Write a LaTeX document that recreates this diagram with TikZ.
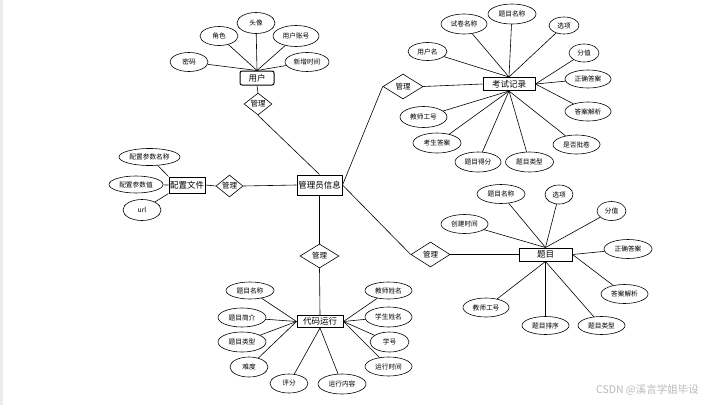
\documentclass[tikz,border=0pt]{standalone}
\usepackage{fontspec}
\setmainfont{Noto Sans CJK SC}
\usetikzlibrary{shapes.geometric}

\begin{document}
\begin{tikzpicture}[x=1pt,y=-1pt,line width=0.6pt]
    \tikzset{attr/.style={draw,ellipse,inner sep=0pt,minimum width=#1,minimum height=19pt,
        font=\fontsize{6.7}{7}\selectfont},
    attr/.default=47pt,
    entity/.style={draw,rectangle,line width=1pt,inner sep=0pt,minimum height=13pt,
        font=\fontsize{8.5}{9}\selectfont},
    relation/.style={draw,diamond,inner sep=0pt,minimum width=39pt,minimum height=25pt,
        font=\fontsize{7.5}{8}\selectfont}}
    \useasboundingbox (0,0) rectangle (723,405);
    \fill[gray!15] (0,0) rectangle (3,405);

    \node[entity,minimum width=45pt,minimum height=20pt] (admin) at (319.5,185) {管理员信息};

    \node[entity,rounded corners=2pt,minimum width=34pt,minimum height=14pt] (user) at (257,78) {用户};
    \node[relation,minimum width=28pt,minimum height=20pt] (mUser) at (258,104) {管理};
    \node[attr=38pt] (u1) at (189,62) {密码};
    \node[attr=38pt] (u2) at (219,36) {角色};
    \node[attr=38pt,minimum height=21pt] (u3) at (256,23) {头像};
    \node[attr=46pt,minimum height=21pt] (u4) at (296,36) {用户账号};
    \node[attr=44pt] (u5) at (307,62) {新增时间};

    \node[entity,minimum width=36pt,minimum height=16pt] (config) at (187,185) {配置文件};
    \node[relation,minimum width=27pt,minimum height=16pt] (mConf) at (229.5,186) {管理};
    \node[attr=61pt,minimum height=17pt] (c1) at (149.5,157) {配置参数名称};
    \node[attr=54pt,minimum height=17pt] (c2) at (136,184.5) {配置参数值};
    \node[attr=38pt,minimum height=21pt] (c3) at (142,210) {url};

    \node[entity,minimum width=52pt] (exam) at (509,84) {考试记录};
    \node[relation,minimum width=40pt] (mExam) at (403,86.5) {管理};
    \node[attr=39pt,minimum height=18pt] (e1) at (427.5,51.5) {用户名};
    \node[attr=46pt,minimum height=20pt] (e2) at (464,24) {试卷名称};
    \node[attr=48pt,minimum height=20pt] (e3) at (512,14) {题目名称};
    \node[attr=30pt,minimum height=17pt] (e4) at (564,25.5) {选项};
    \node[attr=30pt,minimum height=18pt] (e5) at (584,53) {分值};
    \node[attr=46pt,minimum height=18pt] (e6) at (588,79) {正确答案};
    \node[attr=46pt] (e7) at (588,111.5) {答案解析};
    \node[attr=47pt] (e8) at (576.5,144.5) {是否批卷};
    \node[attr=48pt,minimum height=20pt] (e9) at (529.5,162) {题目类型};
    \node[attr=46pt,minimum height=20pt] (e10) at (478,162) {题目得分};
    \node[attr=48pt,minimum height=20pt] (e11) at (437,143) {考生答案};
    \node[attr=47pt,minimum height=21pt] (e12) at (423.5,117) {教师工号};

    \node[entity,minimum width=53pt] (topic) at (545.5,254.5) {题目};
    \node[relation] (mTopic) at (430.5,254.5) {管理};
    \node[attr] (t1) at (464.5,224) {创建时间};
    \node[attr=48pt] (t2) at (501,194) {题目名称};
    \node[attr=28pt] (t3) at (559,194.5) {选项};
    \node[attr=29pt] (t4) at (611.5,211) {分值};
    \node[attr=48pt] (t5) at (628,249) {正确答案};
    \node[attr] (t6) at (624.5,294) {答案解析};
    \node[attr,minimum height=18pt] (t7) at (601.5,325.5) {题目类型};
    \node[attr,minimum height=18pt] (t8) at (545.5,325.5) {题目排序};
    \node[attr=46pt] (t9) at (486,307.5) {教师工号};

    \node[entity,minimum width=46pt,minimum height=12pt] (code) at (320,321.5) {代码运行};
    \node[relation,minimum height=24pt] (mCode) at (319.5,256) {管理};
    \node[attr=48pt,minimum height=17pt] (k1) at (250,290.5) {题目名称};
    \node[attr=48pt] (k2) at (242,317.5) {题目简介};
    \node[attr=48pt,minimum height=20pt] (k3) at (242,342) {题目类型};
    \node[attr=38pt,minimum height=20pt] (k4) at (249,367) {难度};
    \node[attr=38pt] (k5) at (289,383.5) {评分};
    \node[attr=48pt,minimum height=20pt] (k6) at (342,384) {运行内容};
    \node[attr] (k7) at (388.5,366.5) {运行时间};
    \node[attr=39pt,minimum height=20pt] (k8) at (389.5,342) {学号};
    \node[attr,minimum height=20pt] (k9) at (388.5,317) {学生姓名};
    \node[attr,minimum height=17pt] (k10) at (388.5,290.5) {教师姓名};

    \foreach \a in {u1,u2,u3,u4,u5} \draw (\a) -- (user.north);
    \draw (user.south) -- (mUser.north);
    \draw (mUser.south) -- (admin.north);

    \draw (c1) -- (config.north west);
    \draw (c2) -- (config.west);
    \draw (c3) -- (config.south west);
    \draw (config.east) -- (mConf.west);
    \draw (mConf.east) -- (admin.west);

    \draw (admin.east) -- (mExam.west);
    \draw (mExam.east) -- (exam.west);
    \foreach \a in {e1,e2,e3,e4} \draw (\a) -- (exam.north);
    \foreach \a in {e5,e6,e7} \draw (\a) -- (exam.east);
    \foreach \a in {e8,e9,e10,e11,e12} \draw (\a) -- (exam.south);

    \draw (admin.east) -- (mTopic.west);
    \draw (mTopic.east) -- (topic.west);
    \foreach \a in {t1,t2,t3,t4} \draw (\a) -- (topic.north);
    \foreach \a in {t5,t6} \draw (\a) -- (topic.east);
    \foreach \a in {t7,t8,t9} \draw (\a) -- (topic.south);

    \draw (admin.south) -- (mCode.north);
    \draw (mCode.south) -- (code.north);
    \foreach \a in {k1,k2,k3,k4} \draw (\a) -- (code.west);
    \foreach \a in {k5,k6} \draw (\a) -- (code.south);
    \foreach \a in {k7,k8,k9,k10} \draw (\a) -- (code.east);

    \node[text=gray!55,font=\fontsize{10.5}{11}\selectfont] (mark) at (647.5,390) {CSDN @溪言学姐毕设};
\end{tikzpicture}
\end{document}
